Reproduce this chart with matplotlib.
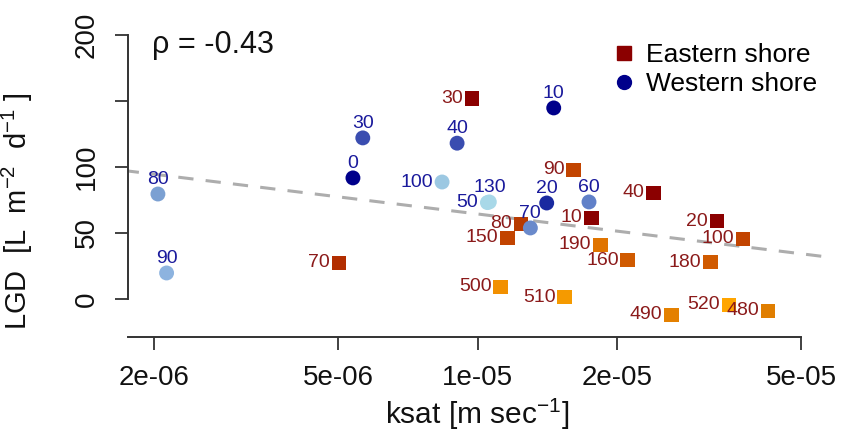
import numpy as np
import matplotlib
matplotlib.use("Agg")
import matplotlib.pyplot as plt
from matplotlib.lines import Line2D

plt.rcParams['font.family'] = ['Liberation Sans', 'DejaVu Sans']
plt.rcParams['mathtext.fontset'] = 'custom'
plt.rcParams['mathtext.rm'] = 'Liberation Sans'

# Eastern shore (squares)
east_depth = ["30", "90", "40", "10", "20", "100", "80", "150", "190", "160", "180",
              "500", "510", "490", "520", "480", "70"]
east_ksat = [9.72e-6, 1.61e-5, 2.40e-5, 1.76e-5, 3.29e-5, 3.74e-5, 1.24e-5, 1.16e-5, 1.84e-5,
             2.11e-5, 3.18e-5, 1.12e-5, 1.54e-5, 2.62e-5, 3.49e-5, 4.24e-5, 5.02e-6]
east_lgd = [152, 97.7, 80.3, 61.4, 59, 45.5, 56.8, 46.2, 40.9, 29.5, 28,
            9.1, 1.5, -12, -4.5, -9, 27.3]
east_colors = ["#8B0000", "#C24400", "#8B0000", "#8B0000", "#8B0000", "#C24400", "#B83A00",
               "#C24400", "#E07400", "#D05A00", "#D05A00", "#F29000", "#F59A00",
               "#E48000", "#FFA500", "#E07E00", "#B22E00"]

# Western shore (circles)
west_depth = ["10", "30", "40", "0", "100", "80", "90", "50", "130", "20", "60", "70"]
west_ksat = [1.46e-5, 5.65e-6, 9.03e-6, 5.38e-6, 8.38e-6, 2.04e-6, 2.13e-6, 1.05e-5,
             1.06e-5, 1.41e-5, 1.74e-5, 1.30e-5]
west_lgd = [144.7, 122, 118, 91.7, 88.6, 79.5, 19.7, 73.0, 73.5, 72.7, 73.5, 53.8]
west_colors = ["#00008B", "#3A4DB0", "#3A4DB0", "#00008B", "#9CC8E2", "#7BA0D2", "#8DB3DF",
               "#A8D8E8", "#A8D8E8", "#1A2AA0", "#6080C8", "#6A8ACB"]
west_pos = ["above", "above", "above", "above", "left", "above", "above", "left",
            "above", "above", "above", "above"]

fig = plt.figure(figsize=(8.41, 4.37), dpi=100)
ax = fig.add_axes([0.1522, 0.2288, 0.8298, 0.7185])
ax.set_xscale('log')
ax.set_xlim(1.758e-6, 5.65e-5)
ax.set_ylim(-28.8, 209)

# regression line of LGD against log10(ksat)
all_x = np.log10(np.array(east_ksat + west_ksat))
all_y = np.array(east_lgd + west_lgd)
slope, intercept = np.polyfit(all_x, all_y, 1)
xl = np.array([-6.0, -4.0])
ax.plot(10 ** xl, intercept + slope * xl, ls=(0, (5, 4)), color="#ADADAD", lw=2.2, zorder=1)

ax.scatter(east_ksat, east_lgd, marker='s', s=110, c=east_colors, linewidths=0, zorder=3)
ax.scatter(west_ksat, west_lgd, marker='o', s=115, c=west_colors, linewidths=0, zorder=3)

for x, y, t in zip(east_ksat, east_lgd, east_depth):
    ax.annotate(t, (x, y), xytext=(-6.5, 0), textcoords='offset points',
                ha='right', va='center', fontsize=14, color="#8B1A1A", zorder=4)
for x, y, t, p in zip(west_ksat, west_lgd, west_depth, west_pos):
    if p == "left":
        ax.annotate(t, (x, y), xytext=(-6.5, 0), textcoords='offset points',
                    ha='right', va='center', fontsize=14, color="#1A1A9C", zorder=4)
    else:
        ax.annotate(t, (x, y), xytext=(0, 7), textcoords='offset points',
                    ha='center', va='baseline', fontsize=14, color="#1A1A9C", zorder=4)

ax.text(0.034, 0.93, "\u03c1 = -0.43", transform=ax.transAxes, fontsize=22,
        ha='left', va='center', color="#111111")

for s in ['top', 'right']:
    ax.spines[s].set_visible(False)
ax.spines['left'].set_bounds(0, 200)
ax.spines['bottom'].set_bounds(1.758e-6, 5e-5)
for s in ['left', 'bottom']:
    ax.spines[s].set_color("#333333")
    ax.spines[s].set_linewidth(1.4)

ax.set_yticks([0, 50, 100, 150, 200])
ax.set_yticklabels(["0", "50", "100", "", "200"], rotation=90, va='center')
xt = [2e-6, 5e-6, 1e-5, 2e-5, 5e-5]
ax.set_xticks(xt)
ax.set_xticklabels(["2e-06", "5e-06", "1e-05", "2e-05", "5e-05"])
ax.minorticks_off()
ax.tick_params(axis='both', direction='out', length=9.5, width=1.3, color="#333333",
               labelsize=20, labelcolor="#111111")
ax.tick_params(axis='x', pad=11)
ax.tick_params(axis='y', pad=11)

ax.set_xlabel("ksat [m sec$^{-1}$]", fontsize=21.5, color="#111111", labelpad=3)
ax.set_ylabel("LGD  [L  m$^{-2}$  d$^{-1}$ ]", fontsize=21, color="#111111")
ax.yaxis.set_label_coords(-0.133, 0.40)

handles = [Line2D([], [], marker='s', ls='', color="#8B0000", markersize=10),
           Line2D([], [], marker='o', ls='', color="#00008B", markersize=10)]
ax.legend(handles, ["Eastern shore", "Western shore"], loc='upper right',
          bbox_to_anchor=(1.022, 1.012), frameon=False, fontsize=19, handletextpad=0.35,
          labelspacing=0.2, handlelength=1.0)

fig.savefig("out.png", dpi=100)
